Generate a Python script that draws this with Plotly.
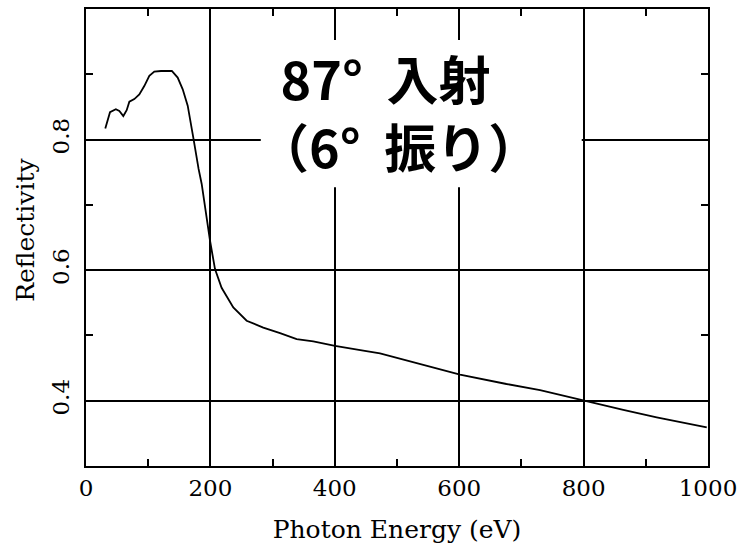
import plotly.graph_objects as go

energy = [31, 35, 38.6, 48, 53.6, 60, 65.4, 69.7, 77.7, 85.7, 93.7, 101.8, 109.8, 120.6,
          138, 147.4, 155.5, 163.5, 170.4, 172.5, 181, 186, 199.4, 207.4, 218, 236.8,
          258.3, 285, 312, 338.7, 365.4, 400.3, 445.8, 472.7, 601.3, 676, 730, 799.6,
          863.8, 917.5, 998]
reflectivity = [0.817, 0.831, 0.842, 0.8465, 0.844, 0.836, 0.845, 0.858, 0.862, 0.869,
                0.882, 0.8975, 0.904, 0.905, 0.905, 0.895, 0.877, 0.852, 0.818, 0.803,
                0.755, 0.732, 0.645, 0.6016, 0.573, 0.543, 0.5225, 0.512, 0.5036, 0.4945,
                0.491, 0.484, 0.4766, 0.4725, 0.44, 0.4256, 0.4164, 0.4, 0.3858, 0.3745,
                0.359]

x_ticks = [0, 200, 400, 600, 800, 1000]
x_minor = [100, 300, 500, 700, 900]
y_ticks = [0.4, 0.6, 0.8]
y_tick_text = ["0.4", "0.6", "0.8"]
y_minor = [0.5, 0.7, 0.9]

x_title = "Photon Energy (eV)"
y_title = "Reflectivity"
label_text = "\u00a0\u00a087°\u00a0\u00a0入射<br>（6°\u00a0\u00a0振り）"

tick_font = dict(family="DejaVu Serif", size=23, color="black")
title_font = dict(family="DejaVu Serif", size=25, color="black")
label_font = dict(family="Liberation Sans Narrow, Noto Sans CJK JP", size=52,
                  color="black", weight="bold")

fig = go.Figure()
fig.add_trace(go.Scatter(x=energy, y=reflectivity, mode="lines",
                         line=dict(color="black", width=1.8), showlegend=False))

fig.update_layout(
    width=747, height=553,
    margin=dict(l=86, r=39, t=7, b=87),
    paper_bgcolor="white", plot_bgcolor="white",
    font=tick_font,
    xaxis=dict(
        range=[0, 1000], tickvals=x_ticks, ticks="", showgrid=True,
        gridcolor="black", gridwidth=1.5, zeroline=False,
        showline=True, linecolor="black", linewidth=2, mirror="ticks",
        tickfont=tick_font, ticklabelstandoff=0,
        title=dict(text=x_title, font=title_font, standoff=21),
        minor=dict(tickvals=x_minor, ticks="inside", ticklen=7,
                   tickcolor="black", tickwidth=1.5, showgrid=False),
    ),
    yaxis=dict(
        range=[0.3, 1.0], tickvals=y_ticks, ticktext=y_tick_text, ticks="",
        showgrid=True, gridcolor="black", gridwidth=1.5, zeroline=False,
        showline=True, linecolor="black", linewidth=2, mirror="ticks",
        tickangle=-90, tickfont=tick_font, ticklabelstandoff=6,
        minor=dict(tickvals=y_minor, ticks="inside", ticklen=7,
                   tickcolor="black", tickwidth=1.5, showgrid=False),
    ),
    shapes=[dict(type="rect", xref="paper", yref="paper",
                 x0=0.281, x1=0.797, y0=0.61, y1=0.932,
                 fillcolor="white", line=dict(width=0), layer="above")],
    annotations=[
        dict(text=y_title, xref="paper", yref="paper", x=-0.097, y=0.516,
             xanchor="center", yanchor="middle", textangle=-90,
             showarrow=False, font=title_font),
        dict(text=label_text, xref="paper", yref="paper",
             x=0.273, y=0.776, xanchor="left", yanchor="middle", align="left",
             borderpad=0, showarrow=False, font=label_font),
    ],
)

fig.write_html("out.html")
